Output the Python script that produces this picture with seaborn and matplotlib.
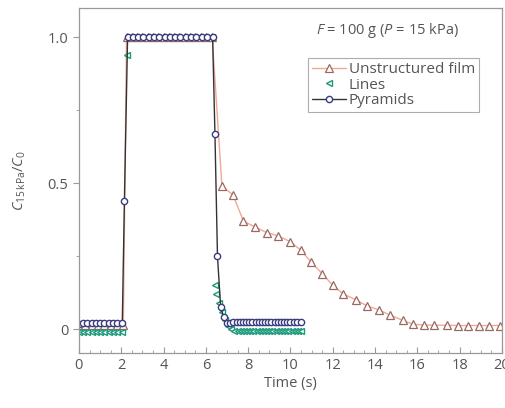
import matplotlib
matplotlib.use("Agg")
import matplotlib.pyplot as plt
import seaborn as sns
import pandas as pd
from matplotlib.ticker import MultipleLocator, FixedLocator, FixedFormatter

# ---- data ----
t_unst = [0.0, 0.3, 0.6, 0.9, 1.2, 1.5, 1.8, 2.1, 2.25, 2.5, 2.75, 3.0, 3.25, 3.5, 3.75,
          4.0, 4.25, 4.5, 4.75, 5.0, 5.25, 5.5, 5.75, 6.0, 6.3, 6.76, 7.28, 7.78,
          8.32, 8.89, 9.4, 9.97, 10.5, 10.97, 11.5, 12.0, 12.5, 13.1, 13.6, 14.2,
          14.7, 15.3, 15.8, 16.3, 16.8, 17.4, 17.9, 18.4, 18.9, 19.4, 19.9]
c_unst = [0.015, 0.015, 0.015, 0.015, 0.015, 0.015, 0.015, 0.015, 1.0, 1.0, 1.0, 1.0, 1.0, 1.0, 1.0,
          1.0, 1.0, 1.0, 1.0, 1.0, 1.0, 1.0, 1.0, 1.0, 1.0, 0.49, 0.46, 0.37,
          0.35, 0.33, 0.32, 0.30, 0.27, 0.23, 0.19, 0.15, 0.12, 0.10, 0.08, 0.065,
          0.048, 0.03, 0.016, 0.014, 0.013, 0.013, 0.012, 0.012, 0.012, 0.012, 0.012]

t_lines = [0.0, 0.2, 0.4, 0.6, 0.8, 1.0, 1.2, 1.4, 1.6, 1.8, 2.05, 2.25, 2.45, 2.7, 2.95,
           3.2, 3.45, 3.7, 3.95, 4.2, 4.45, 4.7, 4.95, 5.2, 5.45, 5.7, 5.95, 6.2, 6.3,
           6.43, 6.5, 6.6, 6.75, 6.9, 7.05, 7.2, 7.35, 7.5, 7.65, 7.8, 7.95, 8.1, 8.25,
           8.4, 8.55, 8.7, 8.85, 9.0, 9.15, 9.3, 9.45, 9.6, 9.75, 9.9, 10.05, 10.2, 10.35, 10.5]
c_lines = [-0.01, -0.01, -0.01, -0.01, -0.01, -0.01, -0.01, -0.01, -0.01, -0.01, -0.01, 0.94, 1.0, 1.0, 1.0,
           1.0, 1.0, 1.0, 1.0, 1.0, 1.0, 1.0, 1.0, 1.0, 1.0, 1.0, 1.0, 1.0, 1.0,
           0.15, 0.12, 0.09, 0.06, 0.03, 0.01, 0.0, -0.008, -0.008, -0.008, -0.008, -0.008, -0.008, -0.008,
           -0.008, -0.008, -0.008, -0.008, -0.008, -0.008, -0.008, -0.008, -0.008, -0.008, -0.008, -0.008, -0.008, -0.008, -0.008]

t_pyr = [0.0, 0.2, 0.4, 0.6, 0.8, 1.0, 1.2, 1.4, 1.6, 1.8, 2.05, 2.15, 2.3, 2.55, 2.8,
         3.05, 3.3, 3.55, 3.8, 4.05, 4.3, 4.55, 4.8, 5.05, 5.3, 5.55, 5.8, 6.05, 6.32,
         6.43, 6.55, 6.7, 6.85, 7.0, 7.15, 7.3, 7.45, 7.6, 7.75, 7.9, 8.05, 8.2, 8.35,
         8.5, 8.65, 8.8, 8.95, 9.1, 9.25, 9.4, 9.55, 9.7, 9.85, 10.0, 10.15, 10.3, 10.5]
c_pyr = [0.018, 0.02, 0.02, 0.022, 0.022, 0.022, 0.022, 0.022, 0.022, 0.022, 0.022, 0.44, 1.0, 1.0, 1.0,
         1.0, 1.0, 1.0, 1.0, 1.0, 1.0, 1.0, 1.0, 1.0, 1.0, 1.0, 1.0, 1.0, 1.0,
         0.67, 0.25, 0.075, 0.04, 0.022, 0.022, 0.025, 0.025, 0.025, 0.025, 0.025, 0.025, 0.025, 0.025,
         0.025, 0.025, 0.025, 0.025, 0.025, 0.025, 0.025, 0.025, 0.025, 0.025, 0.025, 0.025, 0.025, 0.025]

series_names = ["Unstructured film", "Lines", "Pyramids"]
x_ticks = [0, 2, 4, 6, 8, 10, 12, 14, 16, 18, 20]
y_ticks = [0, 0.5, 1.0]
y_tick_labels = ["0", "0.5", "1.0"]

# ---- style ----
sns.set_style("ticks")
plt.rcParams['font.family'] = ['Open Sans', 'DejaVu Sans']
plt.rcParams['mathtext.fontset'] = 'custom'
plt.rcParams['mathtext.it'] = 'Open Sans:italic'
plt.rcParams['mathtext.rm'] = 'Open Sans'

fig = plt.figure(figsize=(5.06, 4.08), dpi=100)
ax = fig.add_axes([0.156, 0.135, 0.836, 0.845])

grey_txt = '#555555'
spine_col = '#999999'

df_u = pd.DataFrame({"t": t_unst, "c": c_unst})
df_l = pd.DataFrame({"t": t_lines, "c": c_lines})
df_p = pd.DataFrame({"t": t_pyr, "c": c_pyr})

sns.lineplot(data=df_u, x="t", y="c", ax=ax, sort=False, estimator=None,
             color='#f0a898', lw=1.0, marker='^', markersize=5.5,
             markerfacecolor='white', markeredgecolor='#9a6860', markeredgewidth=0.9,
             label=series_names[0])
sns.lineplot(data=df_l, x="t", y="c", ax=ax, sort=False, estimator=None,
             color='#1a9a7a', lw=0, marker='<', markersize=5,
             markerfacecolor='white', markeredgecolor='#1a9a7a', markeredgewidth=1.0,
             label=series_names[1])
sns.lineplot(data=df_p, x="t", y="c", ax=ax, sort=False, estimator=None,
             color='#333333', lw=1.0, marker='o', markersize=4.5,
             markerfacecolor='white', markeredgecolor='#3a3c80', markeredgewidth=1.0,
             label=series_names[2])

ax.set_xlim(0, 20)
ax.set_ylim(-0.082, 1.1)
ax.xaxis.set_major_locator(FixedLocator(x_ticks))
ax.xaxis.set_minor_locator(MultipleLocator(0.5))
ax.yaxis.set_major_locator(FixedLocator(y_ticks))
ax.yaxis.set_major_formatter(FixedFormatter(y_tick_labels))
ax.yaxis.set_minor_locator(MultipleLocator(0.25))

ax.tick_params(axis='x', which='both', direction='in', colors=spine_col,
               labelcolor=grey_txt, labelsize=10.5)
ax.tick_params(axis='x', which='major', length=4)
ax.tick_params(axis='x', which='minor', length=2.5)
ax.tick_params(axis='y', which='both', direction='out', colors=spine_col,
               labelcolor=grey_txt, labelsize=10.5)
ax.tick_params(axis='y', which='major', length=4)
ax.tick_params(axis='y', which='minor', length=2.5)

for s in ax.spines.values():
    s.set_visible(True)
    s.set_color(spine_col)
    s.set_linewidth(0.9)

ax.set_xlabel("Time (s)", color=grey_txt, fontsize=10.5, labelpad=2)
ax.set_ylabel(r"$C_{\mathrm{15\,kPa}}/C_{0}$", color=grey_txt, fontsize=10.5, labelpad=14)

ax.text(0.73, 0.935, r"$F$ = 100 g ($P$ = 15 kPa)", transform=ax.transAxes,
        ha='center', va='center', fontsize=10.5, color=grey_txt)

leg = ax.legend(loc='upper right', bbox_to_anchor=(0.945, 0.855), frameon=True,
                fancybox=False, edgecolor=spine_col, fontsize=11,
                handlelength=2.2, handletextpad=0.2, borderpad=0.25,
                labelspacing=0.05, borderaxespad=0)
leg.get_frame().set_linewidth(0.8)
for t in leg.get_texts():
    t.set_color(grey_txt)

fig.savefig("out.png", dpi=100)
